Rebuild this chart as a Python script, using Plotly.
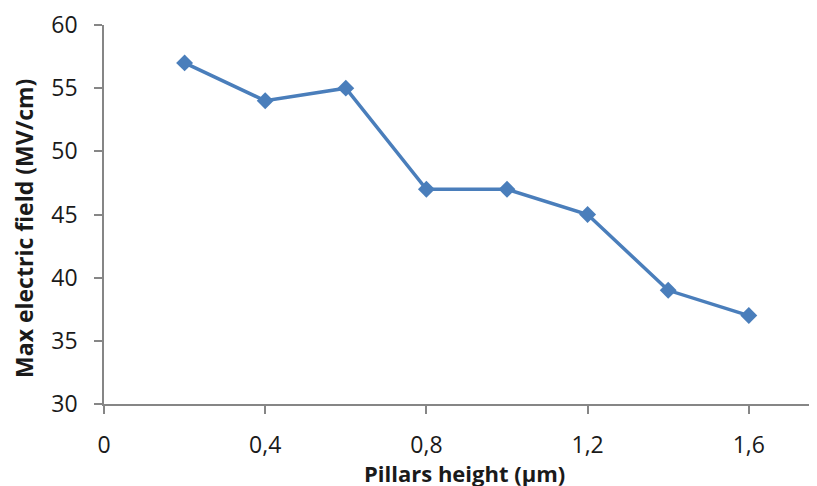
import plotly.graph_objects as go

pillars_height = [0.2, 0.4, 0.6, 0.8, 1.0, 1.2, 1.4, 1.6]
max_field = [57, 54, 55, 47, 47, 45, 39, 37]
x_tick_vals = [0, 0.4, 0.8, 1.2, 1.6]
x_tick_text = ["0", "0,4", "0,8", "1,2", "1,6"]
y_tick_vals = [30, 35, 40, 45, 50, 55, 60]

W, H = 817, 486
L, R, T, B = 96, 0, 15, 90

fig = go.Figure()
fig.add_trace(go.Scatter(
    x=pillars_height, y=max_field, mode="lines+markers",
    line=dict(color="#4A7EBB", width=3.5),
    marker=dict(symbol="diamond", size=13, color="#4A7EBB"),
    showlegend=False,
))

font_family = "Open Sans"
fig.update_layout(
    width=W, height=H,
    margin=dict(l=L, r=R, t=T, b=B, pad=0),
    plot_bgcolor="white", paper_bgcolor="white",
    font=dict(family=font_family, color="#1a1a1a"),
)
pw = W - L - R
ph = H - T - B
x_end = pw / 403.0
fig.update_xaxes(
    range=[0, x_end], tickvals=x_tick_vals, ticktext=x_tick_text,
    showgrid=False, zeroline=False, showline=True, linecolor="#868686", linewidth=1.5,
    ticks="outside", ticklen=8, tickcolor="#868686", tickwidth=1.5,
    tickfont=dict(size=23, family=font_family, color="#1a1a1a"),
    ticklabelstandoff=12, ticklabeloverflow="allow",
)
fig.update_yaxes(
    range=[30, 60], tickvals=y_tick_vals,
    showgrid=False, zeroline=False, showline=True, linecolor="#868686", linewidth=1.5,
    ticks="outside", ticklen=8, tickcolor="#868686", tickwidth=1.5,
    tickfont=dict(size=23, family=font_family, color="#1a1a1a"),
    ticklabelstandoff=12, ticklabeloverflow="allow",
)

fig.add_annotation(
    text="<b>Pillars height (µm)</b>", xref="paper", yref="paper",
    x=(456 - L) / pw, y=-(465 - (H - B)) / ph, showarrow=False,
    font=dict(size=22, family=font_family, color="#1a1a1a"),
    xanchor="center", yanchor="middle",
)
fig.add_annotation(
    text="<b>Max electric field (MV/cm)</b>", xref="paper", yref="paper",
    x=(16 - L) / pw, y=((H - B) - 220) / ph, showarrow=False, textangle=-90,
    font=dict(size=23, family=font_family, color="#1a1a1a"),
    xanchor="center", yanchor="middle",
)

fig.write_html("out.html")
